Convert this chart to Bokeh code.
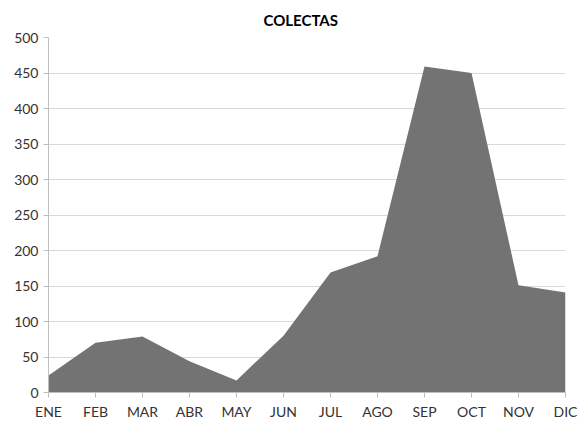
from bokeh.plotting import figure
from bokeh.embed import file_html
from bokeh.resources import INLINE
from bokeh.models import FixedTicker, Range1d

months = ["ENE", "FEB", "MAR", "ABR", "MAY", "JUN", "JUL", "AGO", "SEP", "OCT", "NOV", "DIC"]
colectas = [24, 70, 79, 44, 17, 80, 169, 192, 459, 450, 151, 141]
y_ticks = [0, 50, 100, 150, 200, 250, 300, 350, 400, 450, 500]

xs = list(range(len(months)))

p = figure(width=578, height=430, output_backend="svg", toolbar_location=None,
           x_range=Range1d(0, len(months) - 1), y_range=Range1d(0, 500),
           min_border_left=48, min_border_right=13, min_border_top=37, min_border_bottom=38)

p.varea(x=xs, y1=[0] * len(xs), y2=colectas, fill_color="#737373")

p.title.text = "COLECTAS"
p.title.align = "left"
p.title.offset = 215
p.title.standoff = 17
p.title.text_font = "Lato"
p.title.text_font_size = "15px"
p.title.text_font_style = "bold"
p.title.text_color = "#000000"

p.xaxis.ticker = FixedTicker(ticks=xs)
p.xaxis.major_label_overrides = {i: m for i, m in enumerate(months)}
p.yaxis.ticker = FixedTicker(ticks=y_ticks)

for ax in (p.xaxis, p.yaxis):
    ax.axis_line_color = "#bfbfbf"
    ax.major_tick_line_color = "#bfbfbf"
    ax.minor_tick_line_color = None
    ax.major_tick_in = 0
    ax.major_tick_out = 5
    ax.major_label_text_font = "Lato"
    ax.major_label_text_font_size = "14px"
    ax.major_label_text_color = "#333333"
    ax.major_label_standoff = 5

p.xgrid.grid_line_color = None
p.ygrid.grid_line_color = "#d9d9d9"
p.ygrid.ticker = FixedTicker(ticks=y_ticks)
p.outline_line_color = None

open("out.html", "w").write(file_html(p, INLINE))
